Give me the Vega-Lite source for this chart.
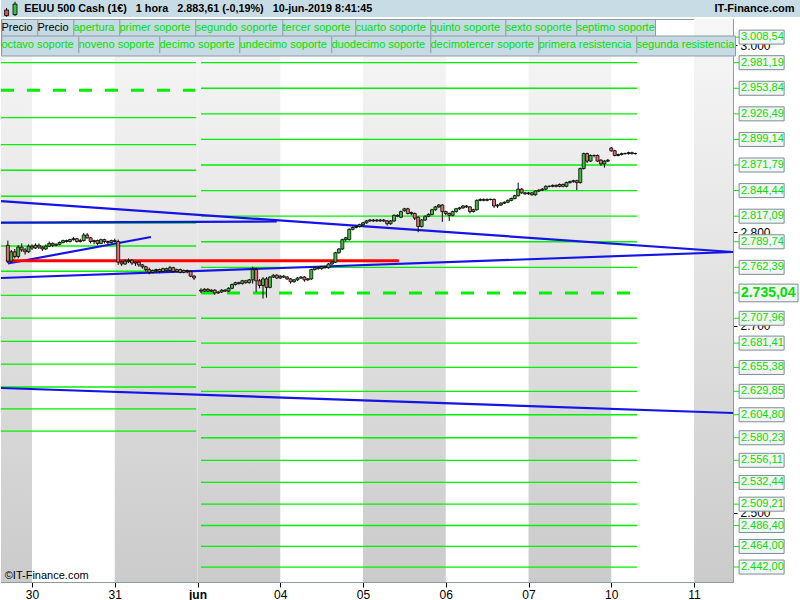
{
  "$schema": "https://vega.github.io/schema/vega-lite/v6.json",
  "padding": 0,
  "background": "#ffffff",
  "spacing": 0,
  "resolve": {"scale": {"color": "independent", "shape": "independent"}, "legend": {"color": "independent", "shape": "independent"}},
  "config": {
    "font": "Liberation Sans",
    "locale": {"number": {"decimal": ",", "thousands": ".", "grouping": [3], "currency": ["", " €"]}},
    "concat": {"spacing": 0},
    "axis": {"title": null, "grid": false},
    "scale": {"continuousPadding": 0}
  },
  "datasets": {
    "bands": [{"d0": -9, "d1": 0}, {"d0": 24, "d1": 48}, {"d0": 48, "d1": 72}, {"d0": 96, "d1": 120}, {"d0": 144, "d1": 168}, {"d0": 192, "d1": 204}],
    "levels": [
      {"v": 3008.54, "a": 49, "b": 175.5}, {"v": 2981.19, "a": 49, "b": 175.5}, {"v": 2953.84, "a": 49, "b": 175.5}, {"v": 2926.49, "a": 49, "b": 175.5},
      {"v": 2899.14, "a": 49, "b": 175.5}, {"v": 2871.79, "a": 49, "b": 175.5}, {"v": 2844.44, "a": 49, "b": 175.5}, {"v": 2817.09, "a": 49, "b": 175.5},
      {"v": 2789.74, "a": 49, "b": 175.5}, {"v": 2762.39, "a": 49, "b": 175.5}, {"v": 2707.96, "a": 49, "b": 175.5}, {"v": 2681.41, "a": 49, "b": 175.5},
      {"v": 2655.38, "a": 49, "b": 175.5}, {"v": 2629.85, "a": 49, "b": 175.5}, {"v": 2604.80, "a": 49, "b": 175.5}, {"v": 2580.23, "a": 49, "b": 175.5},
      {"v": 2556.11, "a": 49, "b": 175.5}, {"v": 2532.44, "a": 49, "b": 175.5}, {"v": 2509.21, "a": 49, "b": 175.5}, {"v": 2486.40, "a": 49, "b": 175.5},
      {"v": 2464.00, "a": 49, "b": 175.5}, {"v": 2442.00, "a": 49, "b": 175.5},
      {"v": 2981.19, "a": -9, "b": 47.6}, {"v": 2922.4, "a": -9, "b": 47.6}, {"v": 2893.5, "a": -9, "b": 47.6}, {"v": 2866.2, "a": -9, "b": 47.6},
      {"v": 2838.4, "a": -9, "b": 47.6}, {"v": 2809.8, "a": -9, "b": 47.6}, {"v": 2785.2, "a": -9, "b": 47.6}, {"v": 2758.2, "a": -9, "b": 47.6},
      {"v": 2732.5, "a": -9, "b": 47.6}, {"v": 2708.2, "a": -9, "b": 47.6}, {"v": 2683.3, "a": -9, "b": 47.6}, {"v": 2659.0, "a": -9, "b": 47.6},
      {"v": 2634.5, "a": -9, "b": 47.6}, {"v": 2611.0, "a": -9, "b": 47.6}, {"v": 2587.4, "a": -9, "b": 47.6}
    ],
    "dashed": [{"v": 2951.7, "a": -9, "b": 47.3}, {"v": 2735.04, "a": 49, "b": 175.5}],
    "trend": [
      {"a": -9, "b": 203.3, "p": 2833.3, "q": 2778.8},
      {"a": -9, "b": 203.3, "p": 2751.0, "q": 2778.8},
      {"a": -9, "b": 71, "p": 2810.3, "q": 2811.4},
      {"a": -7, "b": 34.5, "p": 2766.5, "q": 2794.8},
      {"a": -9, "b": 203.3, "p": 2633.4, "q": 2606.7}
    ],
    "red": [{"a": -7.5, "b": 106.4, "p": 2769.5}],
    "labels": [
      {"v": 3008.54, "big": false}, {"v": 2981.19, "big": false}, {"v": 2953.84, "big": false}, {"v": 2926.49, "big": false},
      {"v": 2899.14, "big": false}, {"v": 2871.79, "big": false}, {"v": 2844.44, "big": false}, {"v": 2817.09, "big": false},
      {"v": 2789.74, "big": false}, {"v": 2762.39, "big": false}, {"v": 2735.04, "big": true}, {"v": 2707.96, "big": false},
      {"v": 2681.41, "big": false}, {"v": 2655.38, "big": false}, {"v": 2629.85, "big": false}, {"v": 2604.80, "big": false},
      {"v": 2580.23, "big": false}, {"v": 2556.11, "big": false}, {"v": 2532.44, "big": false}, {"v": 2509.21, "big": false},
      {"v": 2486.40, "big": false}, {"v": 2464.00, "big": false}, {"v": 2442.00, "big": false}
    ],
    "candles": [
      {"t": -7, "o": 2786, "hi": 2791, "lo": 2767, "c": 2769}, {"t": -6, "o": 2769, "hi": 2781, "lo": 2767, "c": 2779},
      {"t": -5, "o": 2779, "hi": 2782, "lo": 2772, "c": 2774}, {"t": -4, "o": 2774, "hi": 2786, "lo": 2772, "c": 2784},
      {"t": -3, "o": 2784, "hi": 2788, "lo": 2779, "c": 2781}, {"t": -2, "o": 2781, "hi": 2783, "lo": 2776, "c": 2779},
      {"t": -1, "o": 2779, "hi": 2787, "lo": 2778, "c": 2785}, {"t": 0, "o": 2785, "hi": 2787, "lo": 2781, "c": 2783},
      {"t": 1, "o": 2783, "hi": 2788, "lo": 2782, "c": 2786}, {"t": 2, "o": 2786, "hi": 2788, "lo": 2782, "c": 2784},
      {"t": 3, "o": 2784, "hi": 2785, "lo": 2780, "c": 2782}, {"t": 4, "o": 2782, "hi": 2787, "lo": 2781, "c": 2785},
      {"t": 5, "o": 2785, "hi": 2790, "lo": 2784, "c": 2788}, {"t": 6, "o": 2788, "hi": 2789, "lo": 2784, "c": 2786},
      {"t": 7, "o": 2786, "hi": 2788, "lo": 2785, "c": 2787}, {"t": 8, "o": 2787, "hi": 2790, "lo": 2786, "c": 2789},
      {"t": 9, "o": 2789, "hi": 2792, "lo": 2788, "c": 2791}, {"t": 10, "o": 2791, "hi": 2792, "lo": 2789, "c": 2790},
      {"t": 11, "o": 2790, "hi": 2793, "lo": 2789, "c": 2792}, {"t": 12, "o": 2792, "hi": 2795, "lo": 2791, "c": 2793},
      {"t": 13, "o": 2793, "hi": 2794, "lo": 2789, "c": 2790}, {"t": 14, "o": 2790, "hi": 2793, "lo": 2789, "c": 2791},
      {"t": 15, "o": 2791, "hi": 2799, "lo": 2790, "c": 2797}, {"t": 16, "o": 2797, "hi": 2799, "lo": 2793, "c": 2794},
      {"t": 17, "o": 2794, "hi": 2795, "lo": 2788, "c": 2790}, {"t": 18, "o": 2790, "hi": 2792, "lo": 2787, "c": 2791},
      {"t": 19, "o": 2791, "hi": 2792, "lo": 2786, "c": 2788}, {"t": 20, "o": 2788, "hi": 2793, "lo": 2787, "c": 2792},
      {"t": 21, "o": 2792, "hi": 2793, "lo": 2788, "c": 2790}, {"t": 22, "o": 2790, "hi": 2791, "lo": 2787, "c": 2789},
      {"t": 23, "o": 2789, "hi": 2792, "lo": 2788, "c": 2791}, {"t": 24, "o": 2791, "hi": 2793, "lo": 2789, "c": 2790},
      {"t": 25, "o": 2790, "hi": 2792, "lo": 2765, "c": 2768}, {"t": 26, "o": 2768, "hi": 2770, "lo": 2764, "c": 2766},
      {"t": 27, "o": 2766, "hi": 2771, "lo": 2765, "c": 2769}, {"t": 28, "o": 2769, "hi": 2772, "lo": 2767, "c": 2770},
      {"t": 29, "o": 2770, "hi": 2771, "lo": 2765, "c": 2767}, {"t": 30, "o": 2767, "hi": 2769, "lo": 2764, "c": 2768},
      {"t": 31, "o": 2768, "hi": 2769, "lo": 2763, "c": 2765}, {"t": 32, "o": 2765, "hi": 2766, "lo": 2761, "c": 2763},
      {"t": 33, "o": 2763, "hi": 2764, "lo": 2758, "c": 2760}, {"t": 34, "o": 2760, "hi": 2762, "lo": 2755, "c": 2757},
      {"t": 35, "o": 2757, "hi": 2760, "lo": 2756, "c": 2759}, {"t": 36, "o": 2759, "hi": 2761, "lo": 2757, "c": 2760},
      {"t": 37, "o": 2760, "hi": 2761, "lo": 2756, "c": 2758}, {"t": 38, "o": 2758, "hi": 2762, "lo": 2757, "c": 2761},
      {"t": 39, "o": 2761, "hi": 2762, "lo": 2758, "c": 2759}, {"t": 40, "o": 2759, "hi": 2764, "lo": 2758, "c": 2762},
      {"t": 41, "o": 2762, "hi": 2763, "lo": 2757, "c": 2758}, {"t": 42, "o": 2758, "hi": 2761, "lo": 2757, "c": 2760},
      {"t": 43, "o": 2760, "hi": 2761, "lo": 2756, "c": 2757}, {"t": 44, "o": 2757, "hi": 2760, "lo": 2756, "c": 2759},
      {"t": 45, "o": 2759, "hi": 2760, "lo": 2756, "c": 2758}, {"t": 46, "o": 2758, "hi": 2759, "lo": 2752, "c": 2753},
      {"t": 47, "o": 2753, "hi": 2754, "lo": 2749, "c": 2751},
      {"t": 49, "o": 2738, "hi": 2740, "lo": 2735, "c": 2737}, {"t": 50, "o": 2737, "hi": 2740, "lo": 2736, "c": 2739},
      {"t": 51, "o": 2739, "hi": 2740, "lo": 2736, "c": 2737}, {"t": 52, "o": 2737, "hi": 2739, "lo": 2736, "c": 2738},
      {"t": 53, "o": 2738, "hi": 2739, "lo": 2733, "c": 2735}, {"t": 54, "o": 2735, "hi": 2737, "lo": 2734, "c": 2736},
      {"t": 55, "o": 2736, "hi": 2739, "lo": 2735, "c": 2738}, {"t": 56, "o": 2738, "hi": 2739, "lo": 2736, "c": 2737},
      {"t": 57, "o": 2737, "hi": 2741, "lo": 2736, "c": 2740}, {"t": 58, "o": 2740, "hi": 2745, "lo": 2739, "c": 2744},
      {"t": 59, "o": 2744, "hi": 2747, "lo": 2743, "c": 2746}, {"t": 60, "o": 2746, "hi": 2747, "lo": 2744, "c": 2745},
      {"t": 61, "o": 2745, "hi": 2749, "lo": 2744, "c": 2748}, {"t": 62, "o": 2748, "hi": 2749, "lo": 2745, "c": 2746},
      {"t": 63, "o": 2746, "hi": 2750, "lo": 2745, "c": 2749}, {"t": 64, "o": 2749, "hi": 2763, "lo": 2745, "c": 2760},
      {"t": 65, "o": 2760, "hi": 2762, "lo": 2736, "c": 2748}, {"t": 66, "o": 2748, "hi": 2750, "lo": 2740, "c": 2743},
      {"t": 67, "o": 2743, "hi": 2752, "lo": 2729, "c": 2750}, {"t": 68, "o": 2750, "hi": 2752, "lo": 2730, "c": 2741},
      {"t": 69, "o": 2741, "hi": 2753, "lo": 2740, "c": 2752}, {"t": 70, "o": 2752, "hi": 2755, "lo": 2751, "c": 2754},
      {"t": 71, "o": 2754, "hi": 2755, "lo": 2750, "c": 2751}, {"t": 72, "o": 2751, "hi": 2754, "lo": 2750, "c": 2753},
      {"t": 73, "o": 2753, "hi": 2754, "lo": 2751, "c": 2752}, {"t": 74, "o": 2752, "hi": 2753, "lo": 2749, "c": 2750},
      {"t": 75, "o": 2750, "hi": 2751, "lo": 2745, "c": 2747}, {"t": 76, "o": 2747, "hi": 2750, "lo": 2746, "c": 2749},
      {"t": 77, "o": 2749, "hi": 2752, "lo": 2748, "c": 2751}, {"t": 78, "o": 2751, "hi": 2753, "lo": 2750, "c": 2752},
      {"t": 79, "o": 2752, "hi": 2753, "lo": 2747, "c": 2749}, {"t": 80, "o": 2749, "hi": 2751, "lo": 2748, "c": 2750},
      {"t": 81, "o": 2750, "hi": 2761, "lo": 2749, "c": 2760}, {"t": 82, "o": 2760, "hi": 2763, "lo": 2759, "c": 2762},
      {"t": 83, "o": 2762, "hi": 2763, "lo": 2760, "c": 2761}, {"t": 84, "o": 2761, "hi": 2764, "lo": 2760, "c": 2763},
      {"t": 85, "o": 2763, "hi": 2764, "lo": 2761, "c": 2762}, {"t": 86, "o": 2762, "hi": 2767, "lo": 2761, "c": 2766},
      {"t": 87, "o": 2766, "hi": 2769, "lo": 2765, "c": 2768}, {"t": 88, "o": 2768, "hi": 2779, "lo": 2767, "c": 2778},
      {"t": 89, "o": 2778, "hi": 2783, "lo": 2777, "c": 2782}, {"t": 90, "o": 2782, "hi": 2793, "lo": 2781, "c": 2792},
      {"t": 91, "o": 2792, "hi": 2795, "lo": 2790, "c": 2794}, {"t": 92, "o": 2792, "hi": 2804, "lo": 2791, "c": 2803},
      {"t": 93, "o": 2803, "hi": 2806, "lo": 2802, "c": 2805}, {"t": 94, "o": 2805, "hi": 2807, "lo": 2804, "c": 2806},
      {"t": 95, "o": 2806, "hi": 2809, "lo": 2805, "c": 2808}, {"t": 96, "o": 2808, "hi": 2811, "lo": 2807, "c": 2810},
      {"t": 97, "o": 2810, "hi": 2813, "lo": 2809, "c": 2812}, {"t": 98, "o": 2812, "hi": 2814, "lo": 2811, "c": 2813},
      {"t": 99, "o": 2813, "hi": 2814, "lo": 2811, "c": 2812}, {"t": 100, "o": 2812, "hi": 2814, "lo": 2811, "c": 2813},
      {"t": 101, "o": 2813, "hi": 2814, "lo": 2811, "c": 2812}, {"t": 102, "o": 2812, "hi": 2814, "lo": 2811, "c": 2813},
      {"t": 103, "o": 2812, "hi": 2813, "lo": 2807, "c": 2809}, {"t": 104, "o": 2809, "hi": 2813, "lo": 2808, "c": 2812},
      {"t": 105, "o": 2812, "hi": 2819, "lo": 2811, "c": 2818}, {"t": 106, "o": 2817, "hi": 2819, "lo": 2816, "c": 2818},
      {"t": 107, "o": 2816, "hi": 2823, "lo": 2815, "c": 2822}, {"t": 108, "o": 2823, "hi": 2826, "lo": 2822, "c": 2825},
      {"t": 109, "o": 2825, "hi": 2826, "lo": 2819, "c": 2820}, {"t": 110, "o": 2820, "hi": 2822, "lo": 2818, "c": 2821},
      {"t": 111, "o": 2820, "hi": 2821, "lo": 2813, "c": 2815}, {"t": 112, "o": 2816, "hi": 2817, "lo": 2800, "c": 2806},
      {"t": 113, "o": 2806, "hi": 2814, "lo": 2805, "c": 2813}, {"t": 114, "o": 2813, "hi": 2818, "lo": 2812, "c": 2817},
      {"t": 115, "o": 2817, "hi": 2820, "lo": 2816, "c": 2819}, {"t": 116, "o": 2819, "hi": 2825, "lo": 2818, "c": 2824},
      {"t": 117, "o": 2824, "hi": 2828, "lo": 2823, "c": 2827}, {"t": 118, "o": 2827, "hi": 2830, "lo": 2826, "c": 2829},
      {"t": 119, "o": 2829, "hi": 2830, "lo": 2811, "c": 2822}, {"t": 120, "o": 2822, "hi": 2823, "lo": 2818, "c": 2820},
      {"t": 121, "o": 2820, "hi": 2821, "lo": 2812, "c": 2818}, {"t": 122, "o": 2818, "hi": 2823, "lo": 2817, "c": 2822},
      {"t": 123, "o": 2822, "hi": 2826, "lo": 2821, "c": 2825}, {"t": 124, "o": 2825, "hi": 2827, "lo": 2824, "c": 2826},
      {"t": 125, "o": 2826, "hi": 2829, "lo": 2825, "c": 2828}, {"t": 126, "o": 2828, "hi": 2829, "lo": 2826, "c": 2827},
      {"t": 127, "o": 2827, "hi": 2828, "lo": 2820, "c": 2822}, {"t": 128, "o": 2822, "hi": 2825, "lo": 2821, "c": 2824},
      {"t": 129, "o": 2824, "hi": 2835, "lo": 2823, "c": 2834}, {"t": 130, "o": 2834, "hi": 2836, "lo": 2833, "c": 2835},
      {"t": 131, "o": 2835, "hi": 2836, "lo": 2833, "c": 2834}, {"t": 132, "o": 2834, "hi": 2836, "lo": 2833, "c": 2835},
      {"t": 133, "o": 2835, "hi": 2836, "lo": 2834, "c": 2835}, {"t": 134, "o": 2835, "hi": 2836, "lo": 2826, "c": 2828},
      {"t": 135, "o": 2828, "hi": 2830, "lo": 2826, "c": 2829}, {"t": 136, "o": 2829, "hi": 2832, "lo": 2828, "c": 2831},
      {"t": 137, "o": 2831, "hi": 2833, "lo": 2830, "c": 2832}, {"t": 138, "o": 2832, "hi": 2835, "lo": 2831, "c": 2834},
      {"t": 139, "o": 2834, "hi": 2837, "lo": 2833, "c": 2836}, {"t": 140, "o": 2836, "hi": 2840, "lo": 2835, "c": 2839},
      {"t": 141, "o": 2839, "hi": 2853, "lo": 2838, "c": 2846}, {"t": 142, "o": 2846, "hi": 2847, "lo": 2841, "c": 2842},
      {"t": 143, "o": 2842, "hi": 2843, "lo": 2840, "c": 2841}, {"t": 144, "o": 2841, "hi": 2843, "lo": 2840, "c": 2842},
      {"t": 145, "o": 2842, "hi": 2843, "lo": 2839, "c": 2840}, {"t": 146, "o": 2840, "hi": 2845, "lo": 2839, "c": 2844},
      {"t": 147, "o": 2844, "hi": 2846, "lo": 2843, "c": 2845}, {"t": 148, "o": 2845, "hi": 2847, "lo": 2844, "c": 2846},
      {"t": 149, "o": 2846, "hi": 2850, "lo": 2845, "c": 2849}, {"t": 150, "o": 2849, "hi": 2850, "lo": 2848, "c": 2849},
      {"t": 151, "o": 2849, "hi": 2851, "lo": 2848, "c": 2850}, {"t": 152, "o": 2850, "hi": 2851, "lo": 2848, "c": 2849},
      {"t": 153, "o": 2849, "hi": 2852, "lo": 2848, "c": 2851}, {"t": 154, "o": 2851, "hi": 2852, "lo": 2848, "c": 2849},
      {"t": 155, "o": 2849, "hi": 2854, "lo": 2848, "c": 2853}, {"t": 156, "o": 2853, "hi": 2855, "lo": 2852, "c": 2854},
      {"t": 157, "o": 2854, "hi": 2856, "lo": 2853, "c": 2855}, {"t": 158, "o": 2855, "hi": 2856, "lo": 2845, "c": 2853},
      {"t": 159, "o": 2853, "hi": 2869, "lo": 2852, "c": 2868}, {"t": 160, "o": 2868, "hi": 2885, "lo": 2867, "c": 2884},
      {"t": 161, "o": 2884, "hi": 2885, "lo": 2874, "c": 2876}, {"t": 162, "o": 2876, "hi": 2883, "lo": 2875, "c": 2882},
      {"t": 163, "o": 2882, "hi": 2883, "lo": 2880, "c": 2882}, {"t": 164, "o": 2882, "hi": 2883, "lo": 2875, "c": 2876},
      {"t": 165, "o": 2877, "hi": 2878, "lo": 2871, "c": 2873}, {"t": 166, "o": 2873, "hi": 2877, "lo": 2869, "c": 2876},
      {"t": 167, "o": 2876, "hi": 2878, "lo": 2875, "c": 2877}, {"t": 168, "o": 2890, "hi": 2891, "lo": 2886, "c": 2887},
      {"t": 169, "o": 2887, "hi": 2888, "lo": 2881, "c": 2882}, {"t": 170, "o": 2882, "hi": 2884, "lo": 2881, "c": 2883},
      {"t": 171, "o": 2883, "hi": 2885, "lo": 2882, "c": 2884}, {"t": 172, "o": 2884, "hi": 2885, "lo": 2883, "c": 2884},
      {"t": 173, "o": 2884, "hi": 2886, "lo": 2883, "c": 2885}, {"t": 174, "o": 2885, "hi": 2886, "lo": 2883, "c": 2884},
      {"t": 175, "o": 2884, "hi": 2885, "lo": 2883, "c": 2884}
    ]
  },
  "vconcat": [
    {
      "width": 800,
      "height": 17,
      "view": {"fill": "#c8dce6", "stroke": null},
      "data": {"values": [{"k": 1}]},
      "layer": [
        {
          "mark": {"type": "rule", "color": "#000000", "strokeWidth": 1},
          "encoding": {
            "x": {"datum": 0.0069, "scale": {"domain": [0, 1], "nice": false, "zero": false, "padding": 0}, "axis": null},
            "y": {"datum": 0.02, "scale": {"domain": [0, 1], "nice": false, "zero": false, "padding": 0}, "axis": null},
            "y2": {"datum": 0.53}
          }
        },
        {
          "mark": {"type": "rect", "color": "#e05050", "stroke": "#000000", "strokeWidth": 0.8},
          "encoding": {
            "x": {"datum": 0.0045, "scale": {"domain": [0, 1], "nice": false, "zero": false, "padding": 0}, "axis": null},
            "x2": {"datum": 0.0095},
            "y": {"datum": 0.08, "scale": {"domain": [0, 1], "nice": false, "zero": false, "padding": 0}, "axis": null},
            "y2": {"datum": 0.41}
          }
        },
        {
          "mark": {"type": "rule", "color": "#000000", "strokeWidth": 1},
          "encoding": {
            "x": {"datum": 0.0175, "scale": {"domain": [0, 1], "nice": false, "zero": false, "padding": 0}, "axis": null},
            "y": {"datum": 0.06, "scale": {"domain": [0, 1], "nice": false, "zero": false, "padding": 0}, "axis": null},
            "y2": {"datum": 0.9}
          }
        },
        {
          "mark": {"type": "rect", "color": "#40c040", "stroke": "#000000", "strokeWidth": 0.8},
          "encoding": {
            "x": {"datum": 0.015, "scale": {"domain": [0, 1], "nice": false, "zero": false, "padding": 0}, "axis": null},
            "x2": {"datum": 0.02},
            "y": {"datum": 0.14, "scale": {"domain": [0, 1], "nice": false, "zero": false, "padding": 0}, "axis": null},
            "y2": {"datum": 0.76}
          }
        },
        {
          "mark": {"type": "text", "align": "left", "baseline": "middle", "fontSize": 10.8, "fontWeight": "bold", "color": "#000000"},
          "encoding": {
            "x": {"datum": 0.029, "scale": {"domain": [0, 1], "nice": false, "zero": false, "padding": 0}, "axis": null},
            "y": {"datum": 0.5, "scale": {"domain": [0, 1], "nice": false, "zero": false, "padding": 0}, "axis": null},
            "text": {"value": "EEUU 500 Cash (1€)\u00a0\u00a0\u00a01 hora\u00a0\u00a0\u00a02.883,61 (-0,19%)\u00a0\u00a0\u00a010-jun-2019 8:41:45"}
          }
        },
        {
          "mark": {"type": "text", "align": "right", "baseline": "middle", "fontSize": 11, "fontWeight": "bold", "color": "#000000"},
          "encoding": {
            "x": {"datum": 0.992, "scale": {"domain": [0, 1], "nice": false, "zero": false, "padding": 0}, "axis": null},
            "y": {"datum": 0.5, "scale": {"domain": [0, 1], "nice": false, "zero": false, "padding": 0}, "axis": null},
            "text": {"value": "IT-Finance.com"}
          }
        }
      ]
    },
    {
      "width": 732,
      "height": 563,
      "view": {"fill": "#ffffff", "stroke": "#8a9ca4"},
      "layer": [
        {
          "data": {"name": "bands"},
          "mark": {"type": "rect", "clip": true, "color": {"gradient": "linear", "x1": 0, "y1": 0, "x2": 0, "y2": 1, "stops": [{"offset": 0, "color": "#f7f7f7"}, {"offset": 1, "color": "#cbcbcb"}]}},
          "encoding": {
            "x": {"field": "d0", "type": "quantitative", "scale": {"domain": [-8.99, 203.3], "nice": false, "zero": false, "padding": 0},
              "axis": {"orient": "bottom", "values": [0, 24, 48, 72, 96, 120, 144, 168, 192], "labelExpr": "['30','31','jun','04','05','06','07','10','11'][round(datum.value/24)]",
                "labelFontWeight": {"condition": {"test": "datum.value == 48", "value": "bold"}, "value": "normal"},
                "title": null, "grid": false, "tickSize": 5, "tickColor": "#000000", "domainColor": "#8a9ca4", "labelFontSize": 12, "labelColor": "#000000", "labelPadding": 2, "labelFlush": false}},
            "x2": {"field": "d1"}
          }
        },
        {
          "data": {"name": "levels"},
          "mark": {"type": "rule", "clip": true, "color": "#00f000", "strokeWidth": 1.3},
          "encoding": {
            "x": {"field": "a", "type": "quantitative", "scale": {"domain": [-8.99, 203.3], "nice": false, "zero": false, "padding": 0}},
            "x2": {"field": "b"},
            "y": {"field": "v", "type": "quantitative", "scale": {"domain": [2426.0, 3027.9], "nice": false, "zero": false, "padding": 0},
              "axis": {"orient": "right", "values": [2500, 2700, 2800, 3000], "format": ",.0f", "title": null, "grid": false, "tickSize": 4, "tickColor": "#000000", "domainColor": "#8a9ca4", "labelFontSize": 12, "labelColor": "#000000", "labelPadding": 3, "labelFlush": false}}
          }
        },
        {
          "data": {"name": "dashed"},
          "mark": {"type": "rule", "clip": true, "color": "#00f000", "strokeWidth": 3, "strokeDash": [13, 13]},
          "encoding": {
            "x": {"field": "a", "type": "quantitative", "scale": {"domain": [-8.99, 203.3], "nice": false, "zero": false, "padding": 0}},
            "x2": {"field": "b"},
            "y": {"field": "v", "type": "quantitative", "scale": {"domain": [2426.0, 3027.9], "nice": false, "zero": false, "padding": 0}}
          }
        },
        {
          "mark": {"type": "rule", "clip": true, "color": "#00f000", "strokeWidth": 4},
          "encoding": {
            "x": {"datum": 48.3, "type": "quantitative", "scale": {"domain": [-8.99, 203.3], "nice": false, "zero": false, "padding": 0}}
          }
        },
        {
          "data": {"name": "trend"},
          "mark": {"type": "rule", "clip": true, "color": "#1414e6", "strokeWidth": 2.2},
          "encoding": {
            "x": {"field": "a", "type": "quantitative", "scale": {"domain": [-8.99, 203.3], "nice": false, "zero": false, "padding": 0}},
            "x2": {"field": "b"},
            "y": {"field": "p", "type": "quantitative", "scale": {"domain": [2426.0, 3027.9], "nice": false, "zero": false, "padding": 0}},
            "y2": {"field": "q"}
          }
        },
        {
          "data": {"name": "red"},
          "mark": {"type": "rule", "clip": true, "color": "#ff0000", "strokeWidth": 3},
          "encoding": {
            "x": {"field": "a", "type": "quantitative", "scale": {"domain": [-8.99, 203.3], "nice": false, "zero": false, "padding": 0}},
            "x2": {"field": "b"},
            "y": {"field": "p", "type": "quantitative", "scale": {"domain": [2426.0, 3027.9], "nice": false, "zero": false, "padding": 0}}
          }
        },
        {
          "data": {"name": "candles"},
          "mark": {"type": "rule", "clip": true, "color": "#000000", "strokeWidth": 1},
          "encoding": {
            "x": {"field": "t", "type": "quantitative", "scale": {"domain": [-8.99, 203.3], "nice": false, "zero": false, "padding": 0}},
            "y": {"field": "lo", "type": "quantitative", "scale": {"domain": [2426.0, 3027.9], "nice": false, "zero": false, "padding": 0}},
            "y2": {"field": "hi"}
          }
        },
        {
          "data": {"name": "candles"},
          "mark": {"type": "bar", "clip": true, "width": 3, "stroke": "#000000", "strokeWidth": 0.8},
          "encoding": {
            "x": {"field": "t", "type": "quantitative", "scale": {"domain": [-8.99, 203.3], "nice": false, "zero": false, "padding": 0}},
            "y": {"field": "o", "type": "quantitative", "scale": {"domain": [2426.0, 3027.9], "nice": false, "zero": false, "padding": 0}},
            "y2": {"field": "c"},
            "fill": {"condition": {"test": "datum.c >= datum.o", "value": "#3fbf3f"}, "value": "#e07070"}
          }
        },
        {
          "data": {"name": "labels"},
          "mark": {"type": "rule", "color": "#00f000", "strokeWidth": 1},
          "encoding": {
            "x": {"datum": 203.4, "type": "quantitative", "scale": {"domain": [-8.99, 203.3], "nice": false, "zero": false, "padding": 0}},
            "x2": {"datum": 205.2},
            "y": {"field": "v", "type": "quantitative", "scale": {"domain": [2426.0, 3027.9], "nice": false, "zero": false, "padding": 0}}
          }
        },
        {
          "data": {"name": "labels"},
          "transform": [{"filter": "!datum.big"}],
          "mark": {"type": "point", "shape": "M-1,-0.311H1V0.311H-1Z", "size": 2025, "filled": true, "fill": "#f4f4f4", "stroke": "#7b8d95", "strokeWidth": 1, "opacity": 1},
          "encoding": {
            "x": {"datum": 211.6, "type": "quantitative", "scale": {"domain": [-8.99, 203.3], "nice": false, "zero": false, "padding": 0}},
            "y": {"field": "v", "type": "quantitative", "scale": {"domain": [2426.0, 3027.9], "nice": false, "zero": false, "padding": 0}}
          }
        },
        {
          "data": {"name": "labels"},
          "transform": [{"filter": "datum.big"}],
          "mark": {"type": "point", "shape": "M-1,-0.3H1V0.3H-1Z", "size": 3481, "filled": true, "fill": "#f4f4f4", "stroke": "#7b8d95", "strokeWidth": 1, "opacity": 1},
          "encoding": {
            "x": {"datum": 213.6, "type": "quantitative", "scale": {"domain": [-8.99, 203.3], "nice": false, "zero": false, "padding": 0}},
            "y": {"field": "v", "type": "quantitative", "scale": {"domain": [2426.0, 3027.9], "nice": false, "zero": false, "padding": 0}}
          }
        },
        {
          "data": {"name": "labels"},
          "transform": [{"filter": "!datum.big"}],
          "mark": {"type": "text", "align": "left", "baseline": "middle", "fontSize": 11, "color": "#00e000"},
          "encoding": {
            "x": {"datum": 205.6, "type": "quantitative", "scale": {"domain": [-8.99, 203.3], "nice": false, "zero": false, "padding": 0}},
            "y": {"field": "v", "type": "quantitative", "scale": {"domain": [2426.0, 3027.9], "nice": false, "zero": false, "padding": 0}},
            "text": {"field": "v", "type": "quantitative", "format": ",.2f"}
          }
        },
        {
          "data": {"name": "labels"},
          "transform": [{"filter": "datum.big"}],
          "mark": {"type": "text", "align": "left", "baseline": "middle", "fontSize": 14, "fontWeight": "bold", "color": "#00e000"},
          "encoding": {
            "x": {"datum": 205.6, "type": "quantitative", "scale": {"domain": [-8.99, 203.3], "nice": false, "zero": false, "padding": 0}},
            "y": {"field": "v", "type": "quantitative", "scale": {"domain": [2426.0, 3027.9], "nice": false, "zero": false, "padding": 0}},
            "text": {"field": "v", "type": "quantitative", "format": ",.2f"}
          }
        },
        {
          "data": {"values": [{"txt": "©IT-Finance.com"}]},
          "mark": {"type": "text", "align": "left", "baseline": "middle", "fontSize": 11, "color": "#000000"},
          "encoding": {
            "x": {"datum": -7.9, "type": "quantitative", "scale": {"domain": [-8.99, 203.3], "nice": false, "zero": false, "padding": 0}},
            "y": {"datum": 2432.4, "type": "quantitative", "scale": {"domain": [2426.0, 3027.9], "nice": false, "zero": false, "padding": 0}},
            "text": {"field": "txt"}
          }
        },
        {
          "data": {"values": [{"name": "Precio"}]},
          "transform": [{"filter": "false"}],
          "mark": {"type": "point"},
          "encoding": {
            "color": {"field": "name", "type": "nominal",
              "scale": {"domain": ["Precio", "Precio2", "apertura", "primer soporte", "segundo soporte", "tercer soporte", "cuarto soporte", "quinto soporte", "sexto soporte", "septimo soporte"], "range": ["#8a9ca4"]},
              "legend": {"title": null, "orient": "none", "legendX": 0, "legendY": 0, "direction": "horizontal",
                "symbolType": "M-1,-1V1", "symbolSize": 272, "symbolOpacity": 1, "symbolStrokeWidth": 1, "symbolFillColor": "transparent", "symbolStrokeColor": "#8a9ca4",
                "labelOffset": -17.5, "columnPadding": 2, "padding": 0,
                "labelFontSize": 11, "labelLimit": 300, "labelBaseline": "middle",
                "labelColor": {"expr": "datum.label == 'Precio2' || datum.label == 'Precio' ? '#000000' : '#00e000'"},
                "labelExpr": "datum.label == 'Precio2' ? 'Precio' : datum.label",
                "fillColor": "#c6dae4", "strokeColor": "#8a9ca4"}}
          }
        },
        {
          "data": {"values": [{"name": "octavo soporte"}]},
          "transform": [{"filter": "false"}],
          "mark": {"type": "point"},
          "encoding": {
            "shape": {"field": "name", "type": "nominal",
              "scale": {"domain": ["octavo soporte", "noveno soporte", "decimo soporte", "undecimo soporte", "duodecimo soporte", "decimotercer soporte", "primera resistencia", "segunda resistencia"], "range": ["M-1,-1V1"]},
              "legend": {"title": null, "orient": "none", "legendX": 0, "legendY": 16.5, "direction": "horizontal",
                "symbolSize": 272, "symbolOpacity": 1, "symbolStrokeWidth": 1, "symbolFillColor": "transparent", "symbolStrokeColor": "#8a9ca4",
                "labelOffset": -17.5, "columnPadding": 2, "padding": 0,
                "labelFontSize": 11, "labelLimit": 300, "labelBaseline": "middle", "labelColor": "#00e000",
                "fillColor": "#c6dae4", "strokeColor": "#8a9ca4"}}
          }
        }
      ]
    }
  ]
}
